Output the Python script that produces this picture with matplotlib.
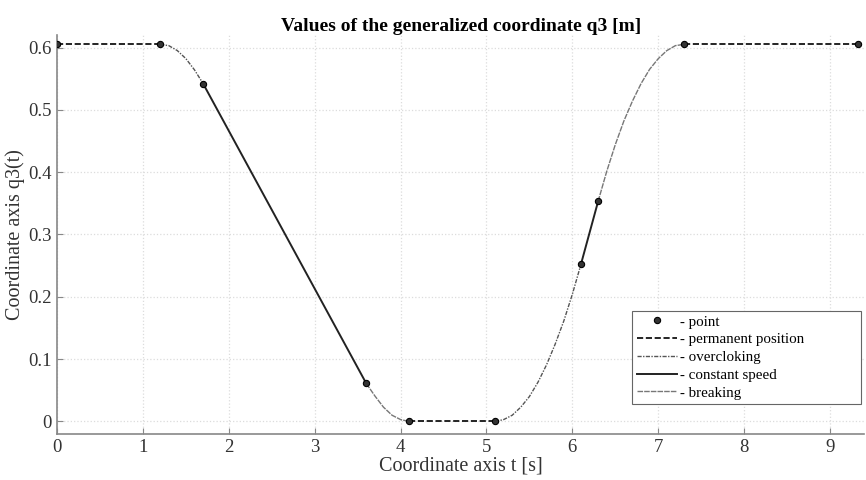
import matplotlib.pyplot as plt

plt.rcParams['font.family'] = ['Liberation Serif', 'DejaVu Serif']

# key points of the trajectory
t_points = [0, 1.2, 1.7, 3.6, 4.1, 5.1, 6.1, 6.3, 7.3, 9.33]
q_points = [0.605, 0.605, 0.542, 0.061, 0.0, 0.0, 0.252, 0.353, 0.605, 0.605]

# permanent position segments
t_perm = [[0, 1.2], [4.1, 5.1], [7.3, 9.33]]
q_perm = [[0.605, 0.605], [0.0, 0.0], [0.605, 0.605]]

# overclocking segments
t_over = [[1.2, 1.3, 1.4, 1.5, 1.6, 1.7],
          [5.1, 5.2, 5.3, 5.4, 5.5, 5.6, 5.7, 5.8, 5.9, 6.0, 6.1]]
q_over = [[0.605, 0.603, 0.595, 0.582, 0.564, 0.542],
          [0.0, 0.003, 0.010, 0.023, 0.040, 0.063, 0.091, 0.124, 0.161, 0.204, 0.252]]

# constant speed segments
t_const = [[1.7, 3.6], [6.1, 6.3]]
q_const = [[0.542, 0.061], [0.252, 0.353]]

# breaking segments
t_brake = [[3.6, 3.7, 3.8, 3.9, 4.0, 4.1],
           [6.3, 6.4, 6.5, 6.6, 6.7, 6.8, 6.9, 7.0, 7.1, 7.2, 7.3]]
q_brake = [[0.061, 0.041, 0.023, 0.010, 0.003, 0.0],
           [0.353, 0.401, 0.444, 0.482, 0.514, 0.542, 0.565, 0.582, 0.595, 0.603, 0.605]]

fig = plt.figure(figsize=(8.66, 4.8), dpi=100)
ax = fig.add_axes([0.066, 0.096, 0.932, 0.831])

for i in range(len(t_perm)):
    ax.plot(t_perm[i], q_perm[i], color='black', linestyle='--', linewidth=1.2,
            label='- permanent position' if i == 0 else None, zorder=3)
for i in range(len(t_over)):
    ax.plot(t_over[i], q_over[i], color='#555555', linestyle=(0, (3, 1, 1, 1)), linewidth=1.0,
            label='- overcloking' if i == 0 else None, zorder=3)
for i in range(len(t_const)):
    ax.plot(t_const[i], q_const[i], color='#222222', linestyle='-', linewidth=1.4,
            label='- constant speed' if i == 0 else None, zorder=3)
for i in range(len(t_brake)):
    ax.plot(t_brake[i], q_brake[i], color='#777777', linestyle=(0, (4, 0.8)), linewidth=1.0,
            label='- breaking' if i == 0 else None, zorder=3)

ax.plot(t_points, q_points, linestyle='none', marker='o', markersize=4.5,
        markerfacecolor='#333333', markeredgecolor='black', markeredgewidth=0.8,
        label='- point', zorder=4)

ax.set_xlim(0, 9.4)
ax.set_ylim(-0.02, 0.62)
ax.set_xticks(range(0, 10))
ax.set_yticks([0, 0.1, 0.2, 0.3, 0.4, 0.5, 0.6])
ax.set_yticklabels(['0', '0.1', '0.2', '0.3', '0.4', '0.5', '0.6'])
ax.tick_params(direction='in', colors='#888888', labelcolor='#333333', labelsize=13.5,
               length=4, pad=4)
ax.grid(True, color='#dcdcdc', linestyle=':', linewidth=0.9)
ax.set_axisbelow(True)
for side in ['top', 'right']:
    ax.spines[side].set_visible(False)
for side in ['left', 'bottom']:
    ax.spines[side].set_color('#888888')
    ax.spines[side].set_linewidth(1.2)

ax.set_title('Values of the generalized coordinate q3 [m]', fontsize=14, fontweight='bold', pad=3)
ax.set_xlabel('Coordinate axis t [s]', fontsize=14.5, color='#333333', labelpad=0)
ax.set_ylabel('Coordinate axis q3(t)', fontsize=14.5, color='#333333', labelpad=2)

handles, labels = ax.get_legend_handles_labels()
order = [4, 0, 1, 2, 3]
leg = ax.legend([handles[k] for k in order], [labels[k] for k in order],
                loc='lower left', bbox_to_anchor=(0.7125, 0.075, 0.284, 0.2), mode='expand',
                fontsize=10.8, handlelength=2.7, handletextpad=0.2, labelspacing=0.28,
                borderpad=0.3, borderaxespad=0, fancybox=False, framealpha=1,
                edgecolor='#666666')
leg.get_frame().set_linewidth(0.8)

fig.savefig('out.png', dpi=100)
